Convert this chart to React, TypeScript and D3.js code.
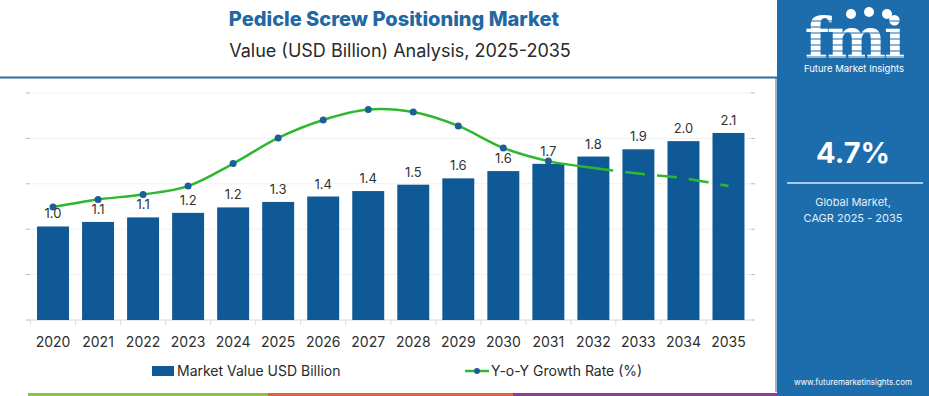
import React from 'react';
import * as d3 from 'd3';

// chart data
const years = ['2020', '2021', '2022', '2023', '2024', '2025', '2026', '2027', '2028', '2029', '2030', '2031', '2032', '2033', '2034', '2035'];
const marketValue = [1.03, 1.08, 1.13, 1.18, 1.24, 1.3, 1.36, 1.42, 1.49, 1.56, 1.64, 1.72, 1.8, 1.88, 1.97, 2.06];
const yoyGrowth = [4.98, 5.31, 5.53, 5.9, 6.89, 8.02, 8.81, 9.27, 9.16, 8.55, 7.58, 7.0, 6.7, 6.45, 6.25, 5.9];
const valueTicks = [0, 0.5, 1, 1.5, 2, 2.5];

const W = 929, H = 396;
const FONT = 'Inter, "Open Sans", sans-serif';
const BAR = '#0f5a96';
const GREEN = '#2eb82e';
const DOT = '#1b5e9a';
const PANEL = '#1d6dad';

const App = () => {
    const x = d3.scaleBand().domain(years).range([30.5, 751]).paddingInner(0.29).paddingOuter(0.145);
    const y = d3.scaleLinear().domain([0, 2.5]).range([320, 93]);
    const yG = d3.scaleLinear().domain([0, 10]).range([320, 93]);
    const cx = (yr) => x(yr) + x.bandwidth() / 2;

    const line = d3.line()
        .curve(d3.curveCatmullRom.alpha(0.5))
        .x((d) => cx(d.year))
        .y((d) => yG(d.v));

    const pts = years.map((yr, i) => ({ year: yr, v: yoyGrowth[i] }));
    const solid = pts.slice(0, 13);
    const dashed = pts.slice(12);

    return (
        <svg width={W} height={H} style={{ position: 'fixed', left: 0, top: 0, background: '#fff' }} fontFamily={FONT}>
            {/* titles */}
            <text x={394} y={26} textAnchor="middle" fontSize={20} fontWeight={800} fill="#1f68a3">Pedicle Screw Positioning Market</text>
            <text x={400} y={57} textAnchor="middle" fontSize={18} fill="#2a2a2a">Value (USD Billion) Analysis, 2025-2035</text>
            <line x1={0} x2={778} y1={77.5} y2={77.5} stroke="#2f6d9f" strokeWidth={2} />
            <line x1={776} x2={776} y1={78} y2={392} stroke="#2f6d9f" strokeWidth={1} />

            {/* grid */}
            {valueTicks.map((t) => (
                <g key={t}>
                    <line x1={30} x2={751} y1={y(t)} y2={y(t)} stroke={t === 0 ? '#d8d8d8' : '#f0f0f0'} strokeWidth={1} />
                    <line x1={26} x2={30} y1={y(t)} y2={y(t)} stroke="#bbb" />
                    <line x1={751} x2={755} y1={y(t)} y2={y(t)} stroke="#bbb" />
                </g>
            ))}
            {years.map((yr) => (
                <line key={'t' + yr} x1={x(yr) - x.step() * x.paddingInner() / 2} x2={x(yr) - x.step() * x.paddingInner() / 2} y1={320} y2={325} stroke="#ddd" />
            ))}

            {/* bars */}
            {years.map((yr, i) => (
                <g key={yr}>
                    <rect x={x(yr)} y={y(marketValue[i])} width={x.bandwidth()} height={320 - y(marketValue[i])} fill={BAR} />
                    <text x={cx(yr)} y={y(marketValue[i]) - 8} textAnchor="middle" fontSize={13} fill="#333">{marketValue[i].toFixed(1)}</text>
                    <text x={cx(yr)} y={347} textAnchor="middle" fontSize={14} fill="#2e2e2e">{yr}</text>
                </g>
            ))}

            {/* growth line */}
            <path d={line(solid)} fill="none" stroke={GREEN} strokeWidth={2.5} />
            <path d={line(dashed)} fill="none" stroke={GREEN} strokeWidth={2.5} strokeDasharray="20,12" />
            {pts.slice(0, 12).map((p) => (
                <circle key={'c' + p.year} cx={cx(p.year)} cy={yG(p.v)} r={3.5} fill={DOT} />
            ))}

            {/* legend */}
            <rect x={152} y={366} width={22} height={10} fill={BAR} />
            <text x={177} y={376} fontSize={14} fill="#2a2a2a">Market Value USD Billion</text>
            <line x1={465} x2={489} y1={371} y2={371} stroke={GREEN} strokeWidth={2.5} />
            <circle cx={477} cy={371} r={3} fill={DOT} />
            <text x={491} y={376} fontSize={14} fill="#2a2a2a">Y-o-Y Growth Rate (%)</text>

            {/* bottom strip */}
            <rect x={28} y={393} width={240} height={3} fill="#8bc34a" />
            <rect x={268} y={393} width={245} height={3} fill="#e0643c" />
            <rect x={513} y={393} width={264} height={3} fill="#8e3c96" />

            {/* side panel */}
            <rect x={777} y={0} width={152} height={H} fill={PANEL} />
            <text x={854} y={58} textAnchor="middle" fontSize={56} fontWeight={700} fill="#fff" fontFamily='"DejaVu Serif", serif' letterSpacing={-2}>fmi</text>
            {[21, 27, 33, 39, 45, 51, 57].map((yy) => (
                <line key={'s' + yy} x1={800} x2={910} y1={yy} y2={yy} stroke={PANEL} strokeWidth={1.2} />
            ))}
            <circle cx={851} cy={14} r={5} fill="#fff" />
            <circle cx={869} cy={12} r={5} fill="#fff" />
            <circle cx={887} cy={14} r={5} fill="#fff" />
            <text x={854} y={72} textAnchor="middle" fontSize={9.5} fill="#fff">Future Market Insights</text>
            <text x={853} y={163} textAnchor="middle" fontSize={29} fontWeight={700} fill="#fff">4.7%</text>
            <line x1={787} x2={923} y1={183} y2={183} stroke="#a9c9e6" strokeWidth={2} />
            <text x={853} y={206} textAnchor="middle" fontSize={11} fill="#e6eef6">Global Market,</text>
            <text x={853} y={222} textAnchor="middle" fontSize={11} fill="#e6eef6">CAGR 2025 - 2035</text>
            <text x={853} y={385} textAnchor="middle" fontSize={8} fill="#fff">www.futuremarketinsights.com</text>
        </svg>
    );
};

export default App;
